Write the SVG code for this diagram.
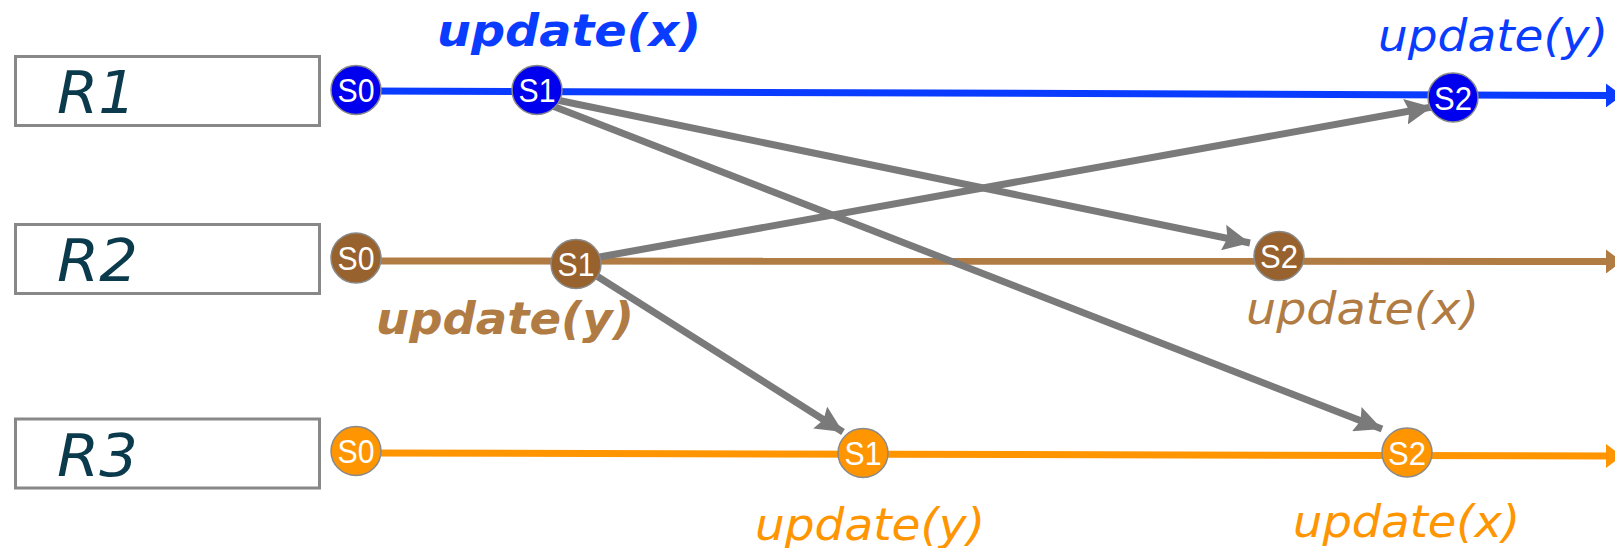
<svg xmlns="http://www.w3.org/2000/svg" width="1615" height="548" viewBox="0 0 1615 548">
  <style>
    .box { fill: #ffffff; stroke: #888888; stroke-width: 3; }
    .rlabel { font-family: "DejaVu Sans", sans-serif; font-style: oblique; font-size: 58px; fill: #0b3a4d; }
    .node { stroke: #8a8a8a; stroke-width: 1.5; }
    .ntext { font-family: "Liberation Sans", Arial, sans-serif; font-size: 33px; fill: #ffffff; text-anchor: middle; }
    .op { font-family: "DejaVu Sans", sans-serif; font-style: oblique; font-size: 45px; }
    .bold { font-weight: bold; }
    .blue { fill: #0a3cff; }
    .brown { fill: #b07c44; }
    .orange { fill: #ff9500; }
    .msg { stroke: #7a7a7a; stroke-width: 7; fill: none; marker-end: url(#msgHead); }
  </style>
  <defs>
    <marker id="msgHead" markerWidth="28" markerHeight="26" refX="27" refY="13" orient="auto" markerUnits="userSpaceOnUse">
      <path d="M0,0 L27,13 L0,26 L4,13 Z" fill="#7a7a7a"/>
    </marker>
    <marker id="headBlue" markerWidth="16" markerHeight="24" refX="16" refY="12" orient="auto" markerUnits="userSpaceOnUse">
      <path d="M0,0 L16,12 L0,24 Z" fill="#0a3cff"/>
    </marker>
    <marker id="headBrown" markerWidth="16" markerHeight="24" refX="16" refY="12" orient="auto" markerUnits="userSpaceOnUse">
      <path d="M0,0 L16,12 L0,24 Z" fill="#b07c44"/>
    </marker>
    <marker id="headOrange" markerWidth="16" markerHeight="24" refX="16" refY="12" orient="auto" markerUnits="userSpaceOnUse">
      <path d="M0,0 L16,12 L0,24 Z" fill="#ff9500"/>
    </marker>
  </defs>

  <!-- replica labels -->
  <g id="R1">
    <rect class="box" x="15.5" y="56.5" width="304" height="69"/>
    <text class="rlabel" x="57" y="113" textLength="79" lengthAdjust="spacingAndGlyphs">R1</text>
  </g>
  <g id="R2">
    <rect class="box" x="15.5" y="224.5" width="304" height="69"/>
    <text class="rlabel" x="57" y="281" textLength="81" lengthAdjust="spacingAndGlyphs">R2</text>
  </g>
  <g id="R3">
    <rect class="box" x="15.5" y="419" width="304" height="69"/>
    <text class="rlabel" x="57" y="476" textLength="81" lengthAdjust="spacingAndGlyphs">R3</text>
  </g>

  <!-- timelines and messages -->
  <g id="connectors">
    <line x1="370" y1="91" x2="1622" y2="95.5" stroke="#0a3cff" stroke-width="7" marker-end="url(#headBlue)"/>
    <line x1="370" y1="261" x2="1622" y2="261.5" stroke="#b07c44" stroke-width="7" marker-end="url(#headBrown)"/>
    <line x1="370" y1="453" x2="1622" y2="456" stroke="#ff9500" stroke-width="7" marker-end="url(#headOrange)"/>

    <line class="msg" x1="552" y1="99" x2="1250" y2="243"/>
    <line class="msg" x1="550" y1="105" x2="1382" y2="429"/>
    <line class="msg" x1="594" y1="258" x2="1432" y2="107"/>
    <line class="msg" x1="592" y1="273" x2="843" y2="432"/>
  </g>

  <!-- R1 states -->
  <g id="R1-S0">
    <ellipse class="node" cx="356" cy="90" rx="25" ry="24.5" fill="#0000ee"/>
    <text class="ntext" x="356" y="102" textLength="37" lengthAdjust="spacingAndGlyphs">S0</text>
  </g>
  <g id="R1-S1">
    <ellipse class="node" cx="537" cy="90" rx="25" ry="24.5" fill="#0000ee"/>
    <text class="ntext" x="537" y="102" textLength="37" lengthAdjust="spacingAndGlyphs">S1</text>
  </g>
  <g id="R1-S2">
    <ellipse class="node" cx="1453" cy="97.5" rx="25" ry="24.5" fill="#0000ee"/>
    <text class="ntext" x="1453" y="109.5" textLength="38" lengthAdjust="spacingAndGlyphs">S2</text>
  </g>

  <!-- R2 states -->
  <g id="R2-S0">
    <ellipse class="node" cx="356" cy="258" rx="25" ry="25" fill="#98622e"/>
    <text class="ntext" x="356" y="270" textLength="37" lengthAdjust="spacingAndGlyphs">S0</text>
  </g>
  <g id="R2-S1">
    <ellipse class="node" cx="576" cy="264" rx="25" ry="24.5" fill="#98622e"/>
    <text class="ntext" x="576" y="276" textLength="37" lengthAdjust="spacingAndGlyphs">S1</text>
  </g>
  <g id="R2-S2">
    <ellipse class="node" cx="1279" cy="256" rx="25" ry="24.5" fill="#98622e"/>
    <text class="ntext" x="1279" y="268" textLength="38" lengthAdjust="spacingAndGlyphs">S2</text>
  </g>

  <!-- R3 states -->
  <g id="R3-S0">
    <ellipse class="node" cx="356" cy="451" rx="25" ry="24.5" fill="#ff9500"/>
    <text class="ntext" x="356" y="463" textLength="37" lengthAdjust="spacingAndGlyphs">S0</text>
  </g>
  <g id="R3-S1">
    <ellipse class="node" cx="863" cy="453" rx="25" ry="24.5" fill="#ff9500"/>
    <text class="ntext" x="863" y="465" textLength="37" lengthAdjust="spacingAndGlyphs">S1</text>
  </g>
  <g id="R3-S2">
    <ellipse class="node" cx="1407" cy="452.5" rx="25" ry="24.5" fill="#ff9500"/>
    <text class="ntext" x="1407" y="464.5" textLength="38" lengthAdjust="spacingAndGlyphs">S2</text>
  </g>

  <!-- operation labels -->
  <g id="ops">
    <text class="op bold blue" x="437" y="46" textLength="264" lengthAdjust="spacingAndGlyphs">update(x)</text>
    <text class="op blue" x="1378" y="51" textLength="230" lengthAdjust="spacingAndGlyphs">update(y)</text>
    <text class="op bold brown" x="376" y="334" textLength="258" lengthAdjust="spacingAndGlyphs">update(y)</text>
    <text class="op brown" x="1246" y="324" textLength="233" lengthAdjust="spacingAndGlyphs">update(x)</text>
    <text class="op orange" x="755" y="540" textLength="230" lengthAdjust="spacingAndGlyphs">update(y)</text>
    <text class="op orange" x="1293" y="537" textLength="227" lengthAdjust="spacingAndGlyphs">update(x)</text>
  </g>
</svg>
